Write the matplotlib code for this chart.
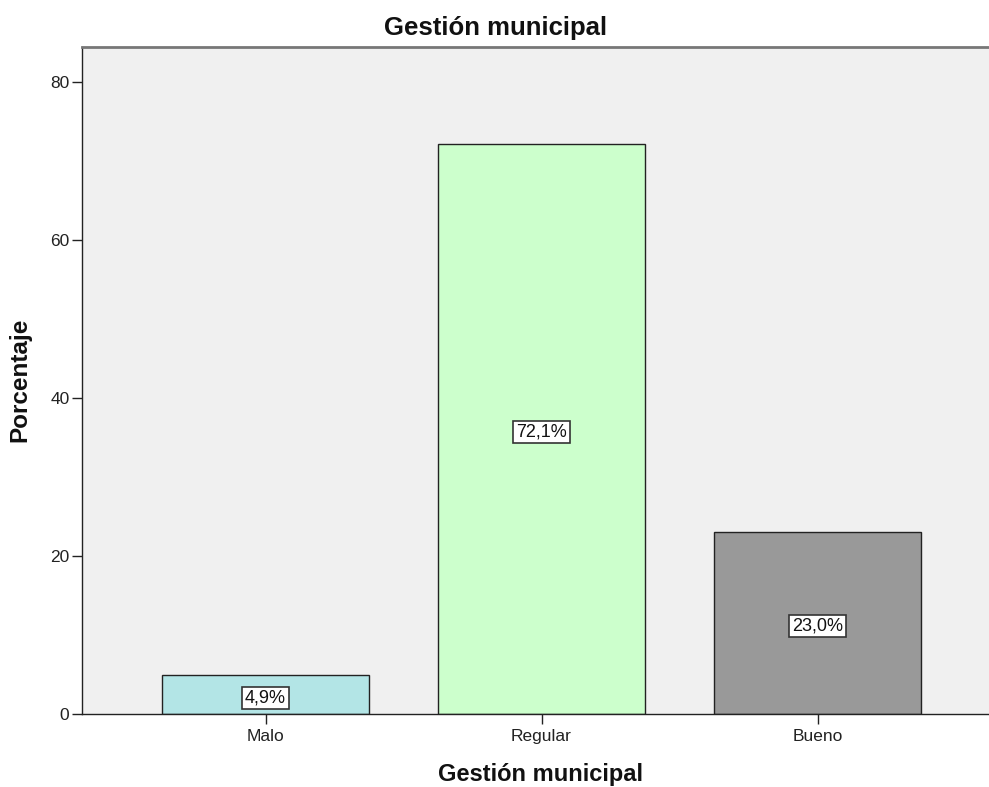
import matplotlib
matplotlib.use("Agg")
import matplotlib.pyplot as plt

categories = ["Malo", "Regular", "Bueno"]
values = [4.9, 72.1, 23.0]
labels = ["4,9%", "72,1%", "23,0%"]
colors = ["#b3e5e6", "#ccffcc", "#999999"]
yticks = [0, 20, 40, 60, 80]

plt.rcParams['font.family'] = ['Liberation Sans', 'DejaVu Sans']

W, H = 989, 787
fig = plt.figure(figsize=(W / 100, H / 100), dpi=100)
ax = fig.add_axes([82 / W, 1 - 714 / H, (989 - 82) / W + 0.01, (714 - 47) / H])
ax.set_facecolor("#f0f0f0")

x = list(range(len(categories)))
ax.bar(x, values, width=0.75, color=colors, edgecolor="#222222", linewidth=1.0, zorder=2)
for xi, v, lab in zip(x, values, labels):
    ax.text(xi, v / 2 - 0.4, lab, ha="center", va="center", fontsize=13, color="#111111",
            bbox=dict(boxstyle="square,pad=0.15", facecolor="white", edgecolor="#333333", linewidth=1.2),
            zorder=3)

ax.set_xlim(-0.665, 2.657)
ax.set_ylim(0, 84.4)
ax.set_yticks(yticks)
ax.set_yticklabels([str(t) for t in yticks], fontsize=12.5)
ax.set_xticks(x)
ax.set_xticklabels(categories, fontsize=12.5)
ax.tick_params(axis="both", direction="out", length=7, width=1, color="#222222", labelcolor="#222222")
ax.tick_params(axis="x", pad=4)
ax.tick_params(axis="y", pad=2)

for s in ["left", "bottom"]:
    ax.spines[s].set_color("#222222")
    ax.spines[s].set_linewidth(1.0)
ax.spines["top"].set_color("#777777")
ax.spines["top"].set_linewidth(2.0)
ax.spines["right"].set_visible(False)

fig.text(496 / W, 1 - 28 / H, "Gestión municipal", ha="center", va="center", fontsize=18.5, fontweight="bold", color="#111111")
fig.text(541 / W, 1 - 774 / H, "Gestión municipal", ha="center", va="center", fontsize=17, fontweight="bold", color="#111111")
fig.text(20 / W, 1 - 380 / H, "Porcentaje", ha="center", va="center", rotation=90, fontsize=17.5, fontweight="bold", color="#111111")

fig.savefig("out.png", dpi=100)
